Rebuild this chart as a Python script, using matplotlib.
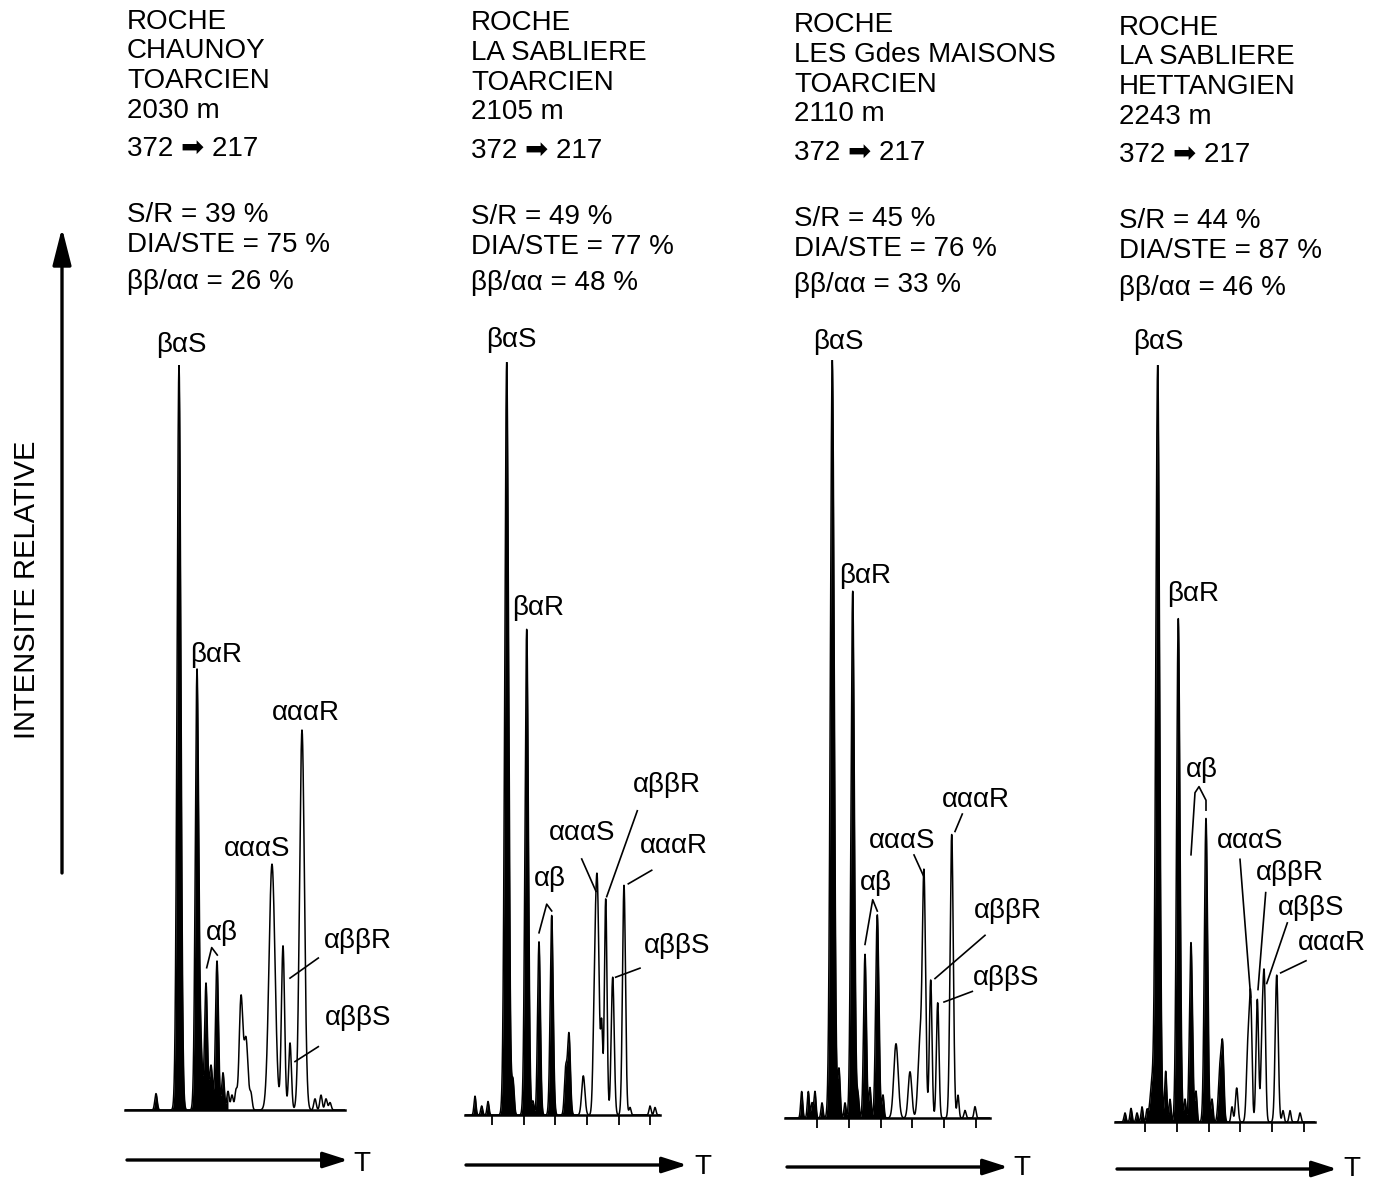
import numpy as np
import matplotlib
matplotlib.use("Agg")
import matplotlib.pyplot as plt
from matplotlib.patches import FancyArrowPatch

W, H = 1382, 1180
plt.rcParams['font.family'] = ['Liberation Sans', 'DejaVu Sans']

# ---------------- DATA ----------------
header_1 = ['ROCHE', 'CHAUNOY', 'TOARCIEN', '2030 m', '372 ➡ 217',
            'S/R = 39 %', 'DIA/STE = 75 %', 'ββ/αα = 26 %']
header_2 = ['ROCHE', 'LA SABLIERE', 'TOARCIEN', '2105 m', '372 ➡ 217',
            'S/R = 49 %', 'DIA/STE = 77 %', 'ββ/αα = 48 %']
header_3 = ['ROCHE', 'LES Gdes MAISONS', 'TOARCIEN', '2110 m', '372 ➡ 217',
            'S/R = 45 %', 'DIA/STE = 76 %', 'ββ/αα = 33 %']
header_4 = ['ROCHE', 'LA SABLIERE', 'HETTANGIEN', '2243 m', '372 ➡ 217',
            'S/R = 44 %', 'DIA/STE = 87 %', 'ββ/αα = 46 %']

peak_names = ['βαS', 'βαR', 'αβ', 'αααS', 'αββR', 'αββS', 'αααR']

# retention (arbitrary units), relative intensity (%), peak width
p1_rt  = [31, 54, 72, 76, 81, 86, 92, 98, 103, 107, 111, 116, 121, 126, 147, 158, 165, 177, 190, 196, 201, 205]
p1_int = [2.2, 100, 59, 7, 17, 6, 20, 5, 2.5, 2, 2.5, 15, 9.5, 2, 33, 22, 9, 51, 1.5, 2, 1.5, 1]
p1_sig = [1.2, 1.9, 1.7, 1.5, 1.4, 1.5, 1.5, 1.3, 1.2, 1.2, 1.2, 1.8, 2.0, 1.2, 3.0, 1.6, 1.4, 2.4, 1.2, 1.2, 1.2, 1.2]

p2_rt  = [10, 16.7, 23, 41.7, 48, 61.7, 68, 74, 86.7, 100.7, 104, 118.3, 129.5, 132.3, 136.7, 140.7, 147.7, 159, 165, 185, 190]
p2_int = [2.5, 1.2, 1.8, 100, 4.5, 64.5, 1.8, 23, 26.5, 6, 10.7, 5.2, 12, 29.5, 11, 28.7, 18.3, 30.5, 1.0, 1.2, 1.0]
p2_sig = [1.0, 1.0, 1.0, 1.9, 1.2, 1.7, 1.0, 1.4, 1.5, 1.3, 1.4, 1.6, 1.5, 1.8, 1.0, 1.3, 1.5, 1.5, 1.0, 1.0, 1.0]

p3_rt  = [16.7, 23.3, 27, 30, 37, 47.3, 54, 60, 67.7, 73, 80, 85, 92.3, 98, 111, 125, 135, 139, 145.7, 152.7, 166.7, 173, 180, 190]
p3_int = [3.5, 3.5, 2, 3.5, 2, 100, 6.4, 2, 69.5, 3, 21.6, 4, 26.8, 3, 9.8, 6.1, 10, 31.4, 18.2, 15.2, 37.4, 3, 1, 1.5]
p3_sig = [1.0, 1.0, 1.0, 1.0, 1.0, 1.9, 1.2, 1.0, 1.7, 1.0, 1.4, 1.0, 1.6, 1.0, 2.2, 1.8, 2.0, 1.6, 1.3, 1.3, 1.6, 1.0, 1.0, 1.0]

p4_rt  = [10, 16, 22, 27, 32, 37, 42.7, 50.7, 55, 63.3, 70, 76, 81, 91, 97, 105, 107.7, 117, 121.7, 133, 135.7, 142.3, 147, 149.3, 161.7, 168, 175, 185]
p4_int = [1.2, 1.8, 1.2, 2, 1.5, 5, 100, 6.7, 3, 66.5, 3, 23.7, 4, 40.1, 3, 7, 8.9, 2, 4.5, 10, 15.2, 16.2, 10, 18.2, 19.4, 1.5, 1.5, 1.2]
p4_sig = [1.0, 1.0, 1.0, 1.0, 1.0, 2.0, 1.9, 1.1, 1.0, 1.7, 1.0, 1.5, 1.0, 1.6, 1.0, 1.6, 1.3, 1.0, 1.3, 1.5, 1.3, 1.3, 1.2, 1.3, 1.5, 1.0, 1.0, 1.0]

# ---------------- LAYOUT (pixels) ----------------
panels = [
    dict(hdr=header_1, rt=p1_rt, it=p1_int, sg=p1_sig, x0=125, w=220, yb=1110, sc=745, fill=103,
         ticks=[], hx=127, hy=19,
         lab=[(181, 342), (216, 652), (222, 930), (257, 846), (358, 938), (358, 1015), (306, 710)],
         lead=[None, None, [(81.7, 19.1), (86.7, 21.8), (92.3, 20.8)], None,
               [(193.3, 20.4), (165, 17.7)], [(193.3, 8.5), (170, 6.5)], None],
         arrow=(127, 348, 1160), T=(362, 1161)),
    dict(hdr=header_2, rt=p2_rt, it=p2_int, sg=p2_sig, x0=465, w=195, yb=1115, sc=753, fill=108,
         ticks=[27 + 31.67 * k for k in range(6)], hx=471, hy=20.5,
         lab=[(511, 337), (538, 605), (550, 876), (582, 830), (667, 782), (677, 943), (674, 843)],
         lead=[None, None, [(74, 24.2), (81.7, 28), (86.7, 27.1)], [(116.7, 34), (131, 29.7)],
               [(172.3, 40.4), (141.7, 29)], [(175, 19.5), (150.7, 18.3)], [(186.7, 32.5), (163.3, 30.7)]],
         arrow=(466, 687, 1165), T=(703, 1164)),
    dict(hdr=header_3, rt=p3_rt, it=p3_int, sg=p3_sig, x0=785, w=205, yb=1118, sc=758, fill=100,
         ticks=[32 + 31.8 * k for k in range(6)], hx=794, hy=22.5,
         lab=[(838, 339), (865, 573), (876, 880), (902, 838), (1008, 908), (1006, 975), (976, 797)],
         lead=[None, None, [(80, 22.9), (87.7, 28.8), (92.3, 27.3)], [(129, 34.7), (139, 31.8)],
               [(200, 24.1), (150, 18.4)], [(187.3, 16.7), (159, 15.3)], [(177.3, 40.1), (170, 37.8)]],
         arrow=(787, 1008, 1167), T=(1022, 1165)),
    dict(hdr=header_4, rt=p4_rt, it=p4_int, sg=p4_sig, x0=1115, w=200, yb=1122, sc=757, fill=115,
         ticks=[30 + 31.8 * k for k in range(6)], hx=1119, hy=25,
         lab=[(1158, 339), (1193, 591), (1202, 767), (1250, 838), (1290, 870), (1311, 905), (1332, 940)],
         lead=[None, None, [(76, 35.3), (80, 43.5), (84, 44.3), (91, 42.5), (91, 41.2)],
               [(125, 34.7), (135.7, 16.5)], [(150.7, 30.3), (143, 17.5)],
               [(172.3, 26.3), (151.7, 18.3)], [(191, 21.3), (165.7, 19.7)]],
         arrow=(1117, 1337, 1169), T=(1352, 1166)),
]
line_off = [0, 29.5, 59, 88.5, 127.5, 193, 223, 260]
FS = 20
CAP = 10


def fx(x):
    return x / W


def fy(y):
    return 1 - y / H


fig = plt.figure(figsize=(W / 100, H / 100), dpi=100)
fig.patch.set_facecolor('white')

for p in panels:
    ax = fig.add_axes([fx(p['x0']), fy(p['yb']), p['w'] / W, p['sc'] / H])
    t = np.linspace(0, p['w'], 4000)
    y = np.zeros_like(t)
    for r, h, s in zip(p['rt'], p['it'], p['sg']):
        y += h * np.exp(-0.5 * ((t - r) / s) ** 2)
    ax.fill_between(t, 0, y, where=t <= p['fill'], color='black', lw=0)
    ax.plot(t, y, color='black', lw=1.1)
    ax.set_xlim(0, p['w'])
    ax.set_ylim(0, 100)
    ax.patch.set_alpha(0)
    for s in ['left', 'right', 'top']:
        ax.spines[s].set_visible(False)
    ax.spines['bottom'].set_linewidth(1.8)
    ax.set_yticks([])
    ax.set_xticks(p['ticks'])
    ax.set_xticklabels([])
    ax.tick_params(axis='x', direction='out', length=7.5, width=1.3)

    # leader lines
    for ld in p['lead']:
        if ld is None:
            continue
        xs, ys = zip(*ld)
        ax.plot(xs, ys, color='black', lw=1.2, clip_on=False)

    # peak labels
    for name, (lx, ly) in zip(peak_names, p['lab']):
        fig.text(fx(lx), fy(ly + CAP), name, ha='center', va='baseline', fontsize=FS)

    # header
    for txt, off in zip(p['hdr'], line_off):
        fig.text(fx(p['hx']), fy(p['hy'] + off + CAP), txt, ha='left', va='baseline', fontsize=FS)

    # time arrow
    xa, xb, ya = p['arrow']
    arr = FancyArrowPatch((fx(xa), fy(ya)), (fx(xb), fy(ya)), transform=fig.transFigure,
                          arrowstyle='-|>,head_length=1.0,head_width=0.32', mutation_scale=15,
                          lw=2.4, color='black', shrinkA=0, shrinkB=0)
    fig.add_artist(arr)
    fig.text(fx(p['T'][0]), fy(p['T'][1] + CAP), 'T', ha='center', va='baseline', fontsize=20)

# vertical intensity arrow
arr = FancyArrowPatch((fx(62), fy(873)), (fx(62), fy(228)), transform=fig.transFigure,
                      arrowstyle='-|>,head_length=1.5,head_width=0.38', mutation_scale=15,
                      lw=2.4, color='black', shrinkA=0, shrinkB=0)
fig.add_artist(arr)
fig.text(fx(27), fy(590), 'INTENSITE RELATIVE', rotation=90, ha='center', va='center', fontsize=21)

fig.savefig('out.png', dpi=100, facecolor='white')
